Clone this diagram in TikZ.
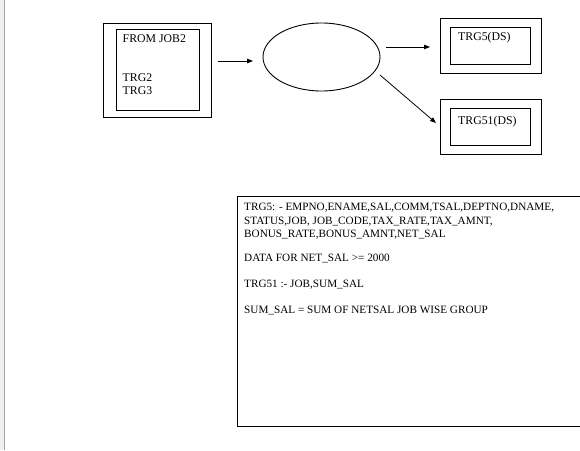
\documentclass[tikz,border=0pt]{standalone}
\usepackage{fontspec}
\setmainfont{Liberation Serif}
\usetikzlibrary{arrows.meta,shapes.geometric}
\begin{document}
\begin{tikzpicture}[x=1pt,y=-1pt,
  box/.style={draw, line width=0.9pt, inner sep=0pt, anchor=north west},
  lbl/.style={anchor=base west, inner sep=0pt, font=\fontsize{11.8}{13}\selectfont},
  txt/.style={anchor=base west, inner sep=0pt, font=\fontsize{11.2}{12.5}\selectfont},
  arr/.style={-{Triangle[length=6pt,width=4.5pt]}, line width=0.8pt}]
\useasboundingbox (0,0) rectangle (580,450);
% window edge strip
\fill[fill=black!6] (0,0) rectangle (4,450);
\draw[black!35, line width=1pt] (4.5,0) -- (4.5,450);
% source box
\node[box, minimum width=108pt, minimum height=94.5pt] (srcout) at (103,22.5) {};
\node[box, minimum width=83pt, minimum height=81pt] (srcin) at (115.5,28.5) {};
\node[lbl] (from) at (122.5,42.5) {FROM JOB2};
\node[lbl] (trg2) at (122.5,81) {TRG2};
\node[lbl] (trg3) at (122.5,94) {TRG3};
% process ellipse
\node[draw, ellipse, line width=0.9pt, inner sep=0pt, minimum width=117pt, minimum height=68pt] (proc) at (321.5,57) {};
% target boxes
\node[box, minimum width=101pt, minimum height=55pt] (t5out) at (440,18) {};
\node[box, minimum width=80pt, minimum height=36.5pt] (t5in) at (449.5,27) {};
\node[lbl] (t5lbl) at (458,40) {TRG5(DS)};
\node[box, minimum width=101pt, minimum height=55pt] (t51out) at (440,99) {};
\node[box, minimum width=80pt, minimum height=37pt] (t51in) at (449.5,108) {};
\node[lbl] (t51lbl) at (458,124) {TRG51(DS)};
% arrows
\coordinate (a1s) at (218,61);
\coordinate (a1e) at (253,61);
\coordinate (a2s) at (386,47);
\coordinate (a2e) at (430,47);
\coordinate (a3s) at (380,75);
\coordinate (a3e) at (436,123);
\draw[arr] (a1s) -- (a1e);
\draw[arr] (a2s) -- (a2e);
\draw[arr] (a3s) -- (a3e);
% note box (runs off the right edge)
\draw[line width=0.9pt] (580,196.5) -- (237,196.5) -- (237,426) -- (580,426);
\node[txt] (n1) at (244,210.5) {TRG5: - EMPNO,ENAME,SAL,COMM,TSAL,DEPTNO,DNAME,};
\node[txt] (n2) at (244,224) {STATUS,JOB, JOB\_CODE,TAX\_RATE,TAX\_AMNT,};
\node[txt] (n3) at (244,237.5) {BONUS\_RATE,BONUS\_AMNT,NET\_SAL};
\node[txt] (n4) at (244,261.5) {DATA FOR NET\_SAL >= 2000};
\node[txt] (n5) at (244,287.5) {TRG51 :- JOB,SUM\_SAL};
\node[txt] (n6) at (244,313.5) {SUM\_SAL = SUM OF NETSAL JOB WISE GROUP};
\end{tikzpicture}
\end{document}
